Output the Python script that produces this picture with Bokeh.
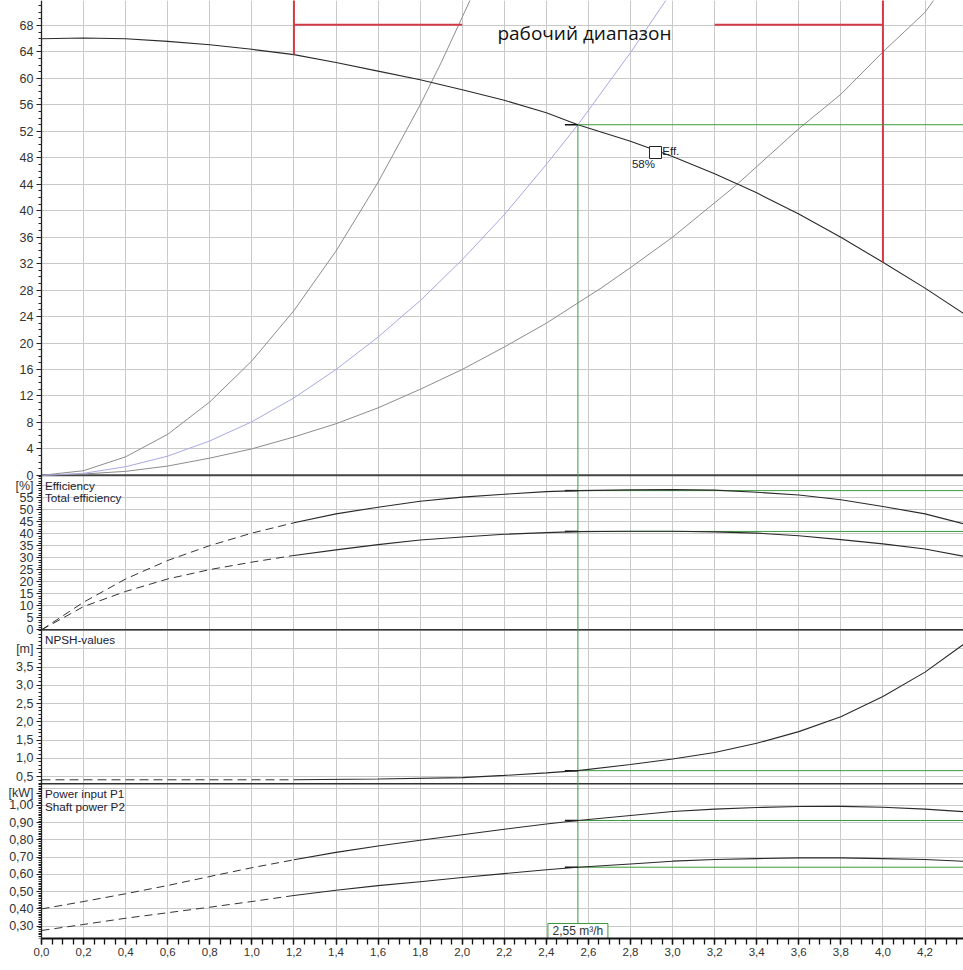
from bokeh.plotting import figure
from bokeh.models import Range1d, FixedTicker, Grid, LinearAxis, CustomJSTickFormatter
from bokeh.embed import file_html
from bokeh.resources import INLINE
from bokeh.core.properties import value

# ---------------- data ----------------
# pump head curve H(Q)
q_head = [0.0, 0.2, 0.4, 0.6, 0.8, 1.0, 1.2, 1.4, 1.6, 1.8, 2.0, 2.2, 2.4, 2.55,
          2.8, 3.0, 3.2, 3.4, 3.6, 3.8, 4.0, 4.2, 4.4]
h_head = [66.0, 66.1, 66.0, 65.6, 65.1, 64.4, 63.6, 62.4, 61.1, 59.8, 58.3, 56.7, 54.8, 53.0,
          50.5, 48.2, 45.6, 42.7, 39.5, 36.0, 32.2, 28.3, 24.1]

# system curves
q_sys_steep = [0.0, 0.2, 0.4, 0.6, 0.8, 1.0, 1.2, 1.4, 1.6, 1.8, 1.9, 2.04]
h_sys_steep = [0.0, 0.7, 2.8, 6.2, 11.1, 17.3, 24.9, 33.9, 44.3, 56.0, 62.4, 72.0]
q_sys_mid = [0.0, 0.2, 0.4, 0.6, 0.8, 1.0, 1.2, 1.4, 1.6, 1.8, 2.0, 2.2, 2.4, 2.55, 2.8, 2.97]
h_sys_mid = [0.0, 0.3, 1.3, 2.9, 5.2, 8.1, 11.7, 16.0, 20.9, 26.4, 32.6, 39.4, 47.0, 53.0, 63.9, 71.9]
q_sys_low = [0.0, 0.2, 0.4, 0.6, 0.8, 1.0, 1.2, 1.4, 1.6, 1.8, 2.0, 2.2, 2.4, 2.66, 2.8,
             3.0, 3.3, 3.6, 3.8, 4.0, 4.2, 4.25]
h_sys_low = [0.0, 0.2, 0.6, 1.4, 2.6, 4.0, 5.8, 7.8, 10.2, 13.0, 16.0, 19.4, 23.0, 28.3, 31.4,
             36.0, 43.8, 52.4, 57.6, 64.0, 70.0, 72.2]

# efficiency panel
q_eff = [0.0, 0.2, 0.4, 0.6, 0.8, 1.0, 1.2, 1.4, 1.6, 1.8, 2.0, 2.2, 2.4, 2.55,
         2.8, 3.0, 3.2, 3.4, 3.6, 3.8, 4.0, 4.2, 4.4]
eff = [0.0, 11.5, 21.2, 28.9, 35.1, 40.3, 44.6, 48.3, 51.1, 53.6, 55.3, 56.5, 57.6, 58.0,
       58.3, 58.4, 58.2, 57.3, 56.2, 54.2, 51.4, 48.3, 43.8]
tot_eff = [0.0, 9.7, 16.0, 21.2, 25.1, 28.2, 31.0, 33.3, 35.5, 37.4, 38.7, 39.8, 40.5, 40.9,
           41.1, 41.1, 40.8, 40.3, 39.2, 37.6, 35.8, 33.7, 30.4]

# NPSH panel
q_npsh = [0.0, 0.4, 0.8, 1.2, 1.6, 2.0, 2.2, 2.4, 2.55, 2.8, 3.0, 3.2, 3.4, 3.6, 3.8, 4.0, 4.2, 4.4]
npsh = [0.41, 0.41, 0.41, 0.41, 0.43, 0.47, 0.53, 0.60, 0.66, 0.83, 0.98, 1.16, 1.41, 1.73,
        2.14, 2.69, 3.36, 4.19]

# power panel
q_pow = [0.0, 0.2, 0.4, 0.6, 0.8, 1.0, 1.2, 1.4, 1.6, 1.8, 2.0, 2.2, 2.4, 2.55,
         2.8, 3.0, 3.2, 3.4, 3.6, 3.8, 4.0, 4.2, 4.4]
p1 = [0.400, 0.443, 0.488, 0.536, 0.588, 0.639, 0.685, 0.728, 0.765, 0.798, 0.830, 0.862, 0.893, 0.913,
      0.942, 0.965, 0.979, 0.988, 0.994, 0.995, 0.990, 0.979, 0.963]
p2 = [0.275, 0.310, 0.346, 0.378, 0.410, 0.443, 0.478, 0.508, 0.535, 0.558, 0.582, 0.605, 0.627, 0.642,
      0.661, 0.677, 0.687, 0.692, 0.696, 0.696, 0.692, 0.687, 0.675]

# operating point
op_q = 2.55
op_h = 53.0
op_eff = 58.0
op_tot = 41.0
op_npsh = 0.66
op_p1 = 0.913
op_p2 = 0.642
op_label = "2,55 m\u00b3/h"

# working range (red)
range_q = [1.2, 4.0]
range_h_bottom = [63.6, 32.2]
range_bar_h = 68.1
range_left_end = 2.0
range_right_start = 3.2
range_text = "рабочий диапазон"
range_text_q = 2.581
range_text_h = 66.9

# efficiency marker
eff_mark_q = 2.919
eff_mark_h = 48.8
eff_mark_text = "Eff."
eff_mark_value = "58%"

dash_end = 1.2  # curves are dashed below this flow

# tick values
x_major = [round(0.2 * i, 1) for i in range(23)]
x_minor = [round(0.05 * i, 2) for i in range(89)]
h_major = list(range(0, 69, 4))
h_minor = list(range(0, 72))
e_major = list(range(0, 56, 5)) + [60]
e_grid = list(range(0, 61, 5))
e_minor = list(range(0, 65))
n_major = [0.5, 1.0, 1.5, 2.0, 2.5, 3.0, 3.5, 4.0]
n_grid = [0.5, 1.0, 1.5, 2.0, 2.5, 3.0, 3.5, 4.0, 4.5]
n_minor = [round(0.1 * i, 1) for i in range(3, 46)]
pw_major = [0.3, 0.4, 0.5, 0.6, 0.7, 0.8, 0.9, 1.0, 1.07]
pw_grid = [0.3, 0.4, 0.5, 0.6, 0.7, 0.8, 0.9, 1.0, 1.1]
pw_minor = [round(0.01 * i, 2) for i in range(23, 113)]

# ---------------- style ----------------
FONT = "Liberation Sans"
GRID = "#c9c9c9"
GREEN = "#3d9a3d"
RED = "#d43a46"
CURVE = "#2a2a2a"
SYS = "#8c8c8c"
BLUE = "#a8a8e4"
TXT = "#333333"
X_START = -0.1949   # room for the tick labels left of Q = 0
X_END = 4.383

p = figure(width=963, height=970,
           x_range=Range1d(X_START, X_END), y_range=Range1d(-70.02, 71.78),
           y_axis_location=None, x_axis_location="below",
           min_border_left=0, min_border_right=0, min_border_top=0, min_border_bottom=32,
           output_backend="svg", toolbar_location=None)
p.extra_y_ranges = {
    "eff": Range1d(-128.6, 262.2),
    "npsh": Range1d(-3.938, 21.76),
    "pow": Range1d(0.2285, 5.669),
}
p.outline_line_color = None
p.background_fill_color = "white"
p.border_fill_color = "white"
p.grid.visible = False

# grids
HAS_CROSS = "cross_bounds" in Grid.properties()
p.add_layout(Grid(dimension=0, ticker=FixedTicker(ticks=x_major), grid_line_color=GRID))
for rng, ticks in (("default", h_major), ("eff", e_grid), ("npsh", n_grid), ("pow", pw_grid)):
    if HAS_CROSS:
        p.add_layout(Grid(dimension=1, ticker=FixedTicker(ticks=ticks), y_range_name=rng,
                          grid_line_color=GRID, cross_bounds=(0, X_END)))
    else:
        p.segment(x0=[0] * len(ticks), y0=ticks, x1=[X_END] * len(ticks), y1=ticks,
                  line_color=GRID, line_width=1, y_range_name=rng, level="underlay")


def add_yaxis(rng, major, minor, bounds, special=-1e9, lab="", dec=0):
    ax = LinearAxis(y_range_name=rng, fixed_location=0, bounds=bounds,
                    ticker=FixedTicker(ticks=major, minor_ticks=minor),
                    formatter=CustomJSTickFormatter(
                        args=dict(sp=special, lab=lab, dec=dec),
                        code="if (Math.abs(tick - sp) < 1e-6) { return lab; } "
                             "return tick.toFixed(dec).replace('.', ',');"))
    ax.axis_line_color = "#222222"
    ax.axis_line_width = 1.3
    ax.major_tick_out = 5
    ax.major_tick_in = 0
    ax.minor_tick_out = 3
    ax.minor_tick_in = 0
    ax.major_tick_line_color = "#222222"
    ax.minor_tick_line_color = "#222222"
    ax.major_label_standoff = 3
    ax.major_label_text_font = FONT
    ax.major_label_text_font_size = "12.5px"
    ax.major_label_text_color = TXT
    p.add_layout(ax, "left")


add_yaxis("default", h_major, h_minor, (0, 71.78))
add_yaxis("eff", e_major, e_minor, (0, 64.5), special=60, lab="[%]")
add_yaxis("npsh", n_major, n_minor, (0.30, 4.53), special=4.0, lab="[m]", dec=1)
add_yaxis("pow", pw_major, pw_minor, (0.2285, 1.126), special=1.07, lab="[kW]", dec=2)


def txt(x, y, t, rng="default", size="11.7px", align="left", baseline="middle", font=FONT,
        color="#222233", xoff=0):
    p.text(x=[x], y=[y], text=[t], text_font=value(font), text_font_size=size,
           text_align=align, text_baseline=baseline, text_color=color, x_offset=xoff,
           y_range_name=rng)


def split(q, v):
    lo = [(a, b) for a, b in zip(q, v) if a <= dash_end]
    hi = [(a, b) for a, b in zip(q, v) if a >= dash_end]
    return [a for a, _ in lo], [b for _, b in lo], [a for a, _ in hi], [b for _, b in hi]


# panel separators
p.segment(x0=[0], y0=[0], x1=[10], y1=[0], line_color="#444444", line_width=2)
p.segment(x0=[0], y0=[0], x1=[10], y1=[0], line_color="#333333", line_width=1.5, y_range_name="eff")
p.segment(x0=[0], y0=[0.30], x1=[10], y1=[0.30], line_color="#333333", line_width=1.5,
          y_range_name="npsh")

# ---------------- head panel ----------------
p.line(q_sys_steep, h_sys_steep, line_color=SYS, line_width=1)
p.line(q_sys_low, h_sys_low, line_color=SYS, line_width=1)
p.line(q_sys_mid, h_sys_mid, line_color=BLUE, line_width=1)
p.line(q_head, h_head, line_color=CURVE, line_width=1.1)
p.segment(x0=range_q, y0=range_h_bottom, x1=range_q, y1=[80, 80], line_color=RED, line_width=2)
p.segment(x0=[range_q[0], range_right_start], y0=[range_bar_h, range_bar_h],
          x1=[range_left_end, range_q[1]], y1=[range_bar_h, range_bar_h], line_color=RED, line_width=2)
txt(range_text_q, range_text_h, range_text, size="19px", align="center", baseline="alphabetic",
    font="Open Sans", color="#111111")

# operating point lines
p.segment(x0=[op_q], y0=[op_h], x1=[op_q], y1=[-80], line_color=GREEN, line_width=1)
tick_len = 0.062
for rng, vals in (("default", [op_h]), ("eff", [op_eff, op_tot]), ("npsh", [op_npsh]),
                  ("pow", [op_p1, op_p2])):
    n = len(vals)
    p.segment(x0=[op_q] * n, y0=vals, x1=[5] * n, y1=vals, line_color=GREEN, line_width=1,
              y_range_name=rng)
    p.segment(x0=[op_q - tick_len] * n, y0=vals, x1=[op_q] * n, y1=vals, line_color="#111111",
              line_width=1.5, y_range_name=rng)

# efficiency marker
p.scatter([eff_mark_q], [eff_mark_h], marker="square", size=12, fill_color="white",
          line_color="#222222", line_width=1)
txt(2.916, 47.1, eff_mark_value, size="11.5px", align="right", baseline="alphabetic")
txt(2.951, 49.1, eff_mark_text, size="11.5px", align="left", baseline="alphabetic")

# ---------------- efficiency panel ----------------
for v in (eff, tot_eff):
    a, b, c, d = split(q_eff, v)
    p.line(a, b, line_color="#333333", line_width=1, line_dash="8 5", y_range_name="eff")
    p.line(c, d, line_color=CURVE, line_width=1.1, y_range_name="eff")
txt(0, 60.1, "Efficiency", rng="eff", xoff=3.5)
txt(0, 55.0, "Total efficiency", rng="eff", xoff=3.5)

# ---------------- NPSH panel ----------------
a, b, c, d = split(q_npsh, npsh)
p.line(a, b, line_color="#333333", line_width=1, line_dash="9 5", y_range_name="npsh")
p.line(c, d, line_color=CURVE, line_width=1.1, y_range_name="npsh")
txt(0, 4.253, "NPSH-values", rng="npsh", xoff=3.5)

# ---------------- power panel ----------------
for v in (p1, p2):
    a, b, c, d = split(q_pow, v)
    p.line(a, b, line_color="#333333", line_width=1, line_dash="8 5", y_range_name="pow")
    p.line(c, d, line_color=CURVE, line_width=1.1, y_range_name="pow")
txt(0, 1.068, "Power input P1", rng="pow", xoff=3.5)
txt(0, 0.996, "Shaft power P2", rng="pow", xoff=3.5)

box_y = 0.2285 + 7.5 / 172.4
p.rect(x=[op_q], y=[box_y], width=60, height=15, width_units="screen", height_units="screen",
       fill_color="white", line_color=GREEN, line_width=1, y_range_name="pow")
txt(op_q, box_y, op_label, rng="pow", size="12px", align="center", baseline="middle", color=TXT)

# ---------------- x axis ----------------
xa = p.xaxis[0]
xa.bounds = (0, X_END)
xa.ticker = FixedTicker(ticks=x_major, minor_ticks=x_minor)
xa.formatter = CustomJSTickFormatter(code="return tick.toFixed(1).replace('.', ',');")
xa.axis_line_color = "#111111"
xa.axis_line_width = 2
xa.major_tick_out = 6
xa.major_tick_in = 0
xa.minor_tick_out = 6
xa.minor_tick_in = 0
xa.major_tick_line_width = 1.3
xa.minor_tick_line_width = 1.3
xa.major_tick_line_color = "#111111"
xa.minor_tick_line_color = "#111111"
xa.major_label_standoff = 3
xa.major_label_text_font = FONT
xa.major_label_text_font_size = "11.5px"
xa.major_label_text_color = TXT

open("out.html", "w").write(file_html(p, INLINE))
